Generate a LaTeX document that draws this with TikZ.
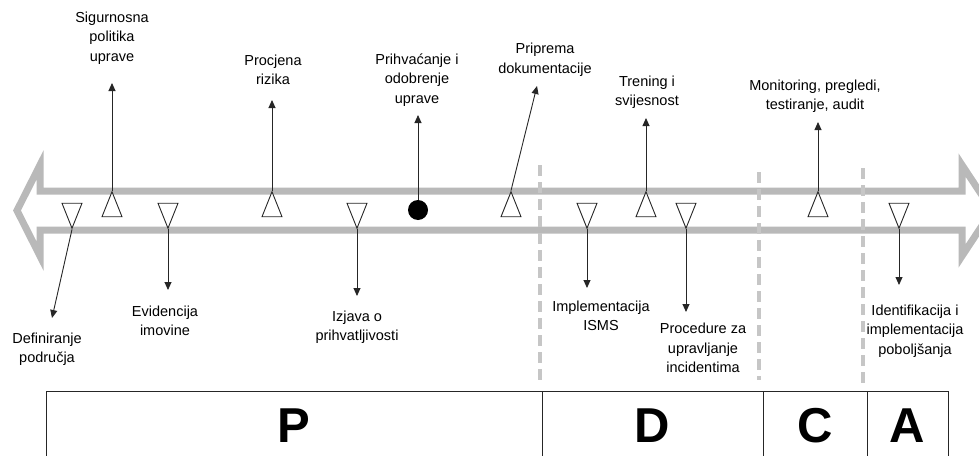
\documentclass[tikz,border=0pt]{standalone}
\usepackage{fontspec}
\setmainfont{Liberation Sans}
\usetikzlibrary{shapes.geometric, arrows.meta}

\begin{document}
\begin{tikzpicture}[
        x=1pt, y=-1pt,
        band/.style={
            draw=gray!55,
            line width=7pt,
            line join=miter
        },
        phaseline/.style={
            draw=gray!45,
            line width=4.5pt,
            dash pattern=on 11pt off 6pt
        },
        triup/.style={
            isosceles triangle,
            isosceles triangle stretches,
            shape border rotate=90,
            draw=black!85,
            fill=white,
            line width=0.9pt,
            minimum width=20pt,
            minimum height=25pt,
            inner sep=0pt
        },
        tridown/.style={
            triup,
            shape border rotate=270
        },
        milestone/.style={
            circle,
            fill=black,
            minimum size=20pt,
            inner sep=0pt
        },
        lbl/.style={
            align=center,
            font=\fontsize{14.5}{19.5}\selectfont
        },
        phase/.style={
            font=\fontsize{49}{50}\selectfont\bfseries
        },
        arrow/.style={
            -{Triangle[length=8pt,width=7pt]},
            line width=0.9pt,
            draw=black!85
        }
    ]

    \useasboundingbox (0,0) rectangle (979,455);
    \clip (0,0) rectangle (979,455);

    % Double arrow (time line)
    \draw[band] (40,191) -- (962,191) -- (962,165) -- (992,210.5) -- (962,256)
        -- (962,230) -- (40,230) -- (40,256) -- (17,210.5) -- (40,165) -- cycle;

    % Phase separators
    \draw[phaseline] (540,165) -- (540,380);
    \draw[phaseline] (759,172) -- (759,380);
    \draw[phaseline] (863,168) -- (863,383);

    % Steps on the time line
    \node[tridown] (t1) at (72,210) {};
    \node[triup] (t2) at (112,210) {};
    \node[tridown] (t3) at (168,210) {};
    \node[triup] (t4) at (272,210) {};
    \node[tridown] (t5) at (357,210) {};
    \node[milestone] (m6) at (418,210) {};
    \node[triup] (t7) at (511,210) {};
    \node[tridown] (t9) at (587,210) {};
    \node[triup] (t10) at (646,210) {};
    \node[tridown] (t11) at (686,210) {};
    \node[triup] (t13) at (818,210) {};
    \node[tridown] (t15) at (899,210) {};

    % Arrow tips
    \coordinate (c1) at (52,318);
    \coordinate (c2) at (112,83);
    \coordinate (c3) at (168,290);
    \coordinate (c4) at (272,100);
    \coordinate (c5) at (357,296);
    \coordinate (c6) at (418,115);
    \coordinate (c7) at (537,86);
    \coordinate (c9) at (587,288);
    \coordinate (c10) at (646,118);
    \coordinate (c11) at (686,312);
    \coordinate (c13) at (818,122);
    \coordinate (c15) at (899,285);

    % Labels
    \node[lbl] (l1) at (47,349) {Definiranje\\područja};
    \node[lbl] (l2) at (112,38) {Sigurnosna\\politika\\uprave};
    \node[lbl] (l3) at (165,321) {Evidencija\\imovine};
    \node[lbl] (l4) at (273,70) {Procjena\\rizika};
    \node[lbl] (l5) at (357,327) {Izjava o\\prihvatljivosti};
    \node[lbl] (l6) at (417,80) {Prihvaćanje i\\odobrenje\\uprave};
    \node[lbl] (l7) at (545,60) {Priprema\\dokumentacije};
    \node[lbl] (l9) at (601,316) {Implementacija\\ISMS};
    \node[lbl] (l10) at (647,92) {Trening i\\svijesnost};
    \node[lbl] (l11) at (703,348) {Procedure za\\upravljanje\\incidentima};
    \node[lbl] (l13) at (815,96) {Monitoring, pregledi,\\testiranje, audit};
    \node[lbl] (l15) at (915,331) {Identifikacija i\\implementacija\\poboljšanja};

    % Arrows
    \draw[arrow] (t1.apex) -- (c1);
    \draw[arrow] (t2.apex) -- (c2);
    \draw[arrow] (t3.apex) -- (c3);
    \draw[arrow] (t4.apex) -- (c4);
    \draw[arrow] (t5.apex) -- (c5);
    \draw[arrow] (m6.north) -- (c6);
    \draw[arrow] (t7.apex) -- (c7);
    \draw[arrow] (t9.apex) -- (c9);
    \draw[arrow] (t10.apex) -- (c10);
    \draw[arrow] (t11.apex) -- (c11);
    \draw[arrow] (t13.apex) -- (c13);
    \draw[arrow] (t15.apex) -- (c15);

    % PDCA phases
    \draw[line width=0.9pt, draw=black!85] (46,391) rectangle (948,475);
    \draw[line width=0.9pt, draw=black!85] (542,391) -- (542,475);
    \draw[line width=0.9pt, draw=black!85] (763,391) -- (763,475);
    \draw[line width=0.9pt, draw=black!85] (867,391) -- (867,475);
    \node[phase] (P) at (294,426) {P};
    \node[phase] (D) at (652,426) {D};
    \node[phase] (C) at (815,426) {C};
    \node[phase] (A) at (907,426) {A};

\end{tikzpicture}
\end{document}
